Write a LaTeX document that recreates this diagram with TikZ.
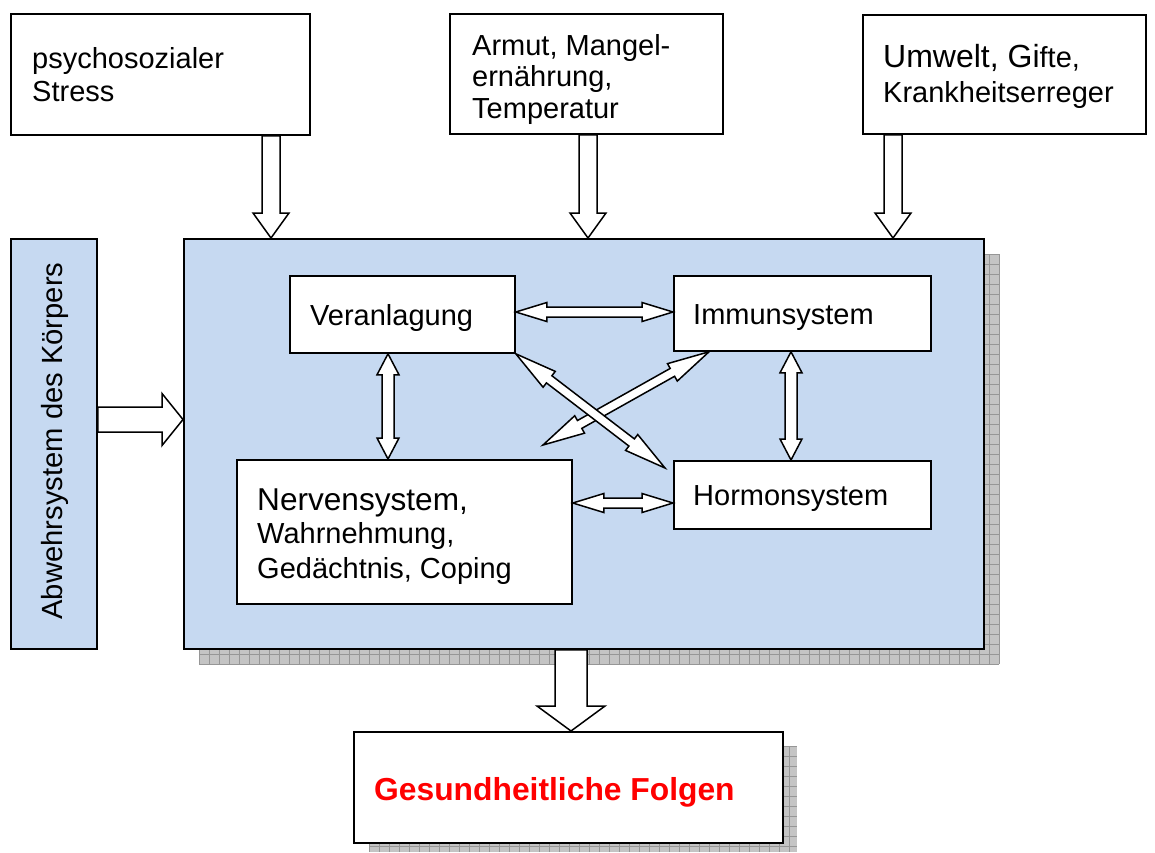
\documentclass[tikz,border=0pt]{standalone}
\usepackage{fontspec}
\setmainfont{Liberation Sans}
\usetikzlibrary{calc}
\definecolor{boxblue}{RGB}{198,217,241}
\definecolor{shadowfill}{RGB}{196,196,196}
\definecolor{shadowline}{RGB}{150,150,150}
\newcommand\tl[1]{\begin{tabular}[t]{@{}l@{}}#1\end{tabular}}
\tikzset{
  wbox/.style={draw=black, fill=white, line width=1.8pt, rectangle, inner sep=0pt, anchor=north west},
  bbox/.style={draw=black, fill=boxblue, line width=1.8pt, rectangle, inner sep=0pt, anchor=north west},
  txt/.style={inner sep=0pt, anchor=base west, font=\fontsize{29}{33}\selectfont},
  blockarrow/.style={draw=black, fill=white, line width=1.5pt, line join=miter},
}
% single block arrow: start, end, shaft half width, head half width, head length
\newcommand\singleblock[5]{%
  \path (#1) coordinate (bastart) (#2) coordinate (baend);
  \pgfpointdiff{\pgfpointanchor{bastart}{center}}{\pgfpointanchor{baend}{center}}%
  \pgfgetlastxy{\badx}{\bady}%
  \pgfmathsetmacro\baang{atan2(\bady,\badx)}%
  \pgfmathsetmacro\balen{veclen(\badx,\bady)}%
  \begin{scope}[shift={(bastart)}, rotate=\baang, x=1pt, y=1pt]
    \draw[blockarrow] (0,#3) -- ({\balen-#5},#3) -- ({\balen-#5},#4) -- (\balen,0)
      -- ({\balen-#5},-#4) -- ({\balen-#5},-#3) -- (0,-#3) -- cycle;
  \end{scope}}
% double block arrow: start, end, shaft half width, head half width, head length start, head length end
\newcommand\doubleblock[6]{%
  \path (#1) coordinate (bastart) (#2) coordinate (baend);
  \pgfpointdiff{\pgfpointanchor{bastart}{center}}{\pgfpointanchor{baend}{center}}%
  \pgfgetlastxy{\badx}{\bady}%
  \pgfmathsetmacro\baang{atan2(\bady,\badx)}%
  \pgfmathsetmacro\balen{veclen(\badx,\bady)}%
  \begin{scope}[shift={(bastart)}, rotate=\baang, x=1pt, y=1pt]
    \draw[blockarrow] (0,0) -- (#5,#4) -- (#5,#3) -- ({\balen-#6},#3) -- ({\balen-#6},#4)
      -- (\balen,0) -- ({\balen-#6},-#4) -- ({\balen-#6},-#3) -- (#5,-#3) -- (#5,-#4) -- cycle;
  \end{scope}}
\begin{document}
\begin{tikzpicture}[x=1pt, y=-1pt]
\useasboundingbox (0,0) rectangle (1155,852);

% shadows
\fill[shadowfill] (199,254) rectangle (999,664);
\foreach \x in {199,209,...,999} \draw[shadowline, line width=0.7pt] (\x,254) -- (\x,664);
\foreach \y in {254,264,...,664} \draw[shadowline, line width=0.7pt] (199,\y) -- (999,\y);
\fill[shadowfill] (369,746) rectangle (797,852);
\foreach \x in {369,379,...,797} \draw[shadowline, line width=0.7pt] (\x,746) -- (\x,852);
\foreach \y in {746,756,...,852} \draw[shadowline, line width=0.7pt] (369,\y) -- (797,\y);

% boxes
\node[wbox, minimum width=299, minimum height=121] (b1) at (10,13) {};
\node[wbox, minimum width=273, minimum height=120] (b2) at (449,13) {};
\node[wbox, minimum width=283, minimum height=119] (b3) at (862,14) {};
\node[bbox, minimum width=800, minimum height=410] (main) at (183,238) {};
\node[bbox, minimum width=86, minimum height=410] (abw) at (10,238) {};
\node[wbox, minimum width=225, minimum height=77] (ver) at (289,275) {};
\node[wbox, minimum width=257, minimum height=75] (imm) at (673,275) {};
\node[wbox, minimum width=335, minimum height=144] (ner) at (236,459) {};
\node[wbox, minimum width=257, minimum height=68] (hor) at (673,460) {};
\node[wbox, minimum width=429, minimum height=111] (ges) at (353,731) {};

% texts
\node[txt] (t1) at (32,68) {\tl{psychosozialer\\Stress}};
\node[txt, font=\fontsize{29}{31.5}\selectfont] (t2) at (472,55) {\tl{Armut, Mangel-\\ernährung,\\Temperatur}};
\node[txt, font=\fontsize{29}{35}\selectfont] (t3) at (883,67) {\tl{{\fontsize{32}{35}\selectfont Umwelt, Gi}fte,\\Krankheitserreger}};
\node[txt] (tver) at (310,325) {Veranlagung};
\node[txt] (timm) at (693,324) {Immunsystem};
\node[txt] (thor) at (693,505) {Hormonsystem};
\node[txt] (tner) at (257,510) {\tl{{\fontsize{31.6}{33}\selectfont Nervensystem,}\\Wahrnehmung,\\[2pt]Gedächtnis, Coping}};
\node[txt, font=\bfseries\fontsize{31.8}{36}\selectfont, text=red] (tges) at (374,800) {Gesundheitliche Folgen};
\node[inner sep=0pt, rotate=90, anchor=base, font=\fontsize{29.2}{33}\selectfont] (tabw) at (62,441) {Abwehrsystem des Körpers};

% helper coordinates
\coordinate (c1) at (271,0);
\coordinate (c2) at (588,0);
\coordinate (c3) at (893,0);
\coordinate (cl) at (0,419.5);
\coordinate (cb) at (571,0);
\coordinate (h1) at (0,312);
\coordinate (h2) at (0,503);
\coordinate (v1) at (388,0);
\coordinate (v2) at (791,0);
\coordinate (d2x) at (709,0);
\coordinate (d2e) at (543,445);
\coordinate (d1e) at (665,468);

% outer block arrows
\singleblock{b1.south -| c1}{main.north -| c1}{9}{18}{25}
\singleblock{b2.south -| c2}{main.north -| c2}{9}{18}{25}
\singleblock{b3.south -| c3}{main.north -| c3}{9}{18}{25}
\singleblock{abw.east |- cl}{main.west |- cl}{12.5}{26}{21}
\singleblock{main.south -| cb}{ges.north -| cb}{16}{34}{25}

% inner double arrows
\doubleblock{ver.east |- h1}{imm.west |- h1}{5}{9.5}{31}{31}
\doubleblock{ner.east |- h2}{hor.west |- h2}{5}{9.5}{31}{31}
\doubleblock{ver.south -| v1}{ner.north -| v1}{6}{11}{21}{21}
\doubleblock{imm.south -| v2}{hor.north -| v2}{6}{11}{21}{21}
\doubleblock{imm.south -| d2x}{d2e}{4.5}{10}{42}{42}
\doubleblock{ver.south east}{d1e}{4.5}{10}{42}{42}
\end{tikzpicture}
\end{document}
